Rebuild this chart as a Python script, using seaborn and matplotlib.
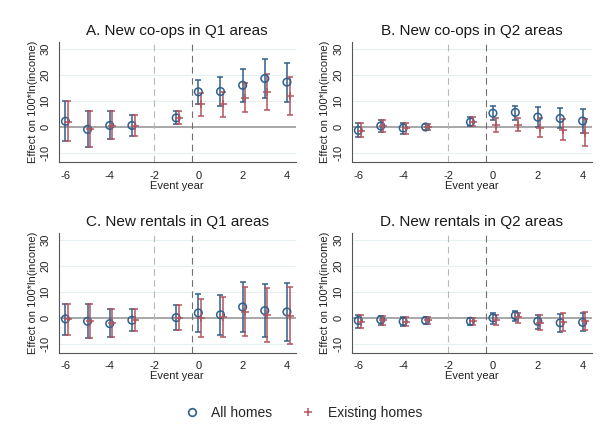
import matplotlib.pyplot as plt
import seaborn as sns
import pandas as pd
import numpy as np
from matplotlib.lines import Line2D

years = [-6, -5, -4, -3, -1, 0, 1, 2, 3, 4]
titles = ["A. New co-ops in Q1 areas", "B. New co-ops in Q2 areas",
          "C. New rentals in Q1 areas", "D. New rentals in Q2 areas"]

# all homes: estimate, lower, upper
a_all = [2.2, -0.9, 0.6, 0.6, 3.5, 13.5, 13.6, 16.0, 18.6, 17.2]
a_all_lo = [-5.5, -7.7, -4.5, -3.5, 1.0, 8.7, 8.1, 9.6, 11.3, 9.6]
a_all_hi = [9.9, 6.0, 6.0, 4.5, 6.0, 18.2, 19.2, 22.4, 26.0, 24.6]
a_ex = [2.0, -0.8, 0.5, 0.5, 3.4, 8.7, 8.7, 11.2, 13.5, 11.8]
a_ex_lo = [-5.5, -7.7, -4.5, -3.5, 1.0, 4.1, 3.8, 5.8, 6.4, 4.5]
a_ex_hi = [9.9, 6.0, 6.0, 4.5, 6.0, 13.0, 13.5, 16.9, 20.5, 19.0]

b_all = [-1.3, 0.4, -0.4, 0.0, 1.9, 5.3, 5.6, 3.8, 3.3, 2.3]
b_all_lo = [-3.8, -1.9, -2.6, -1.3, 0.3, 2.6, 2.8, 0.0, -0.5, -2.3]
b_all_hi = [1.5, 2.6, 1.5, 1.3, 3.8, 7.9, 8.2, 7.6, 7.3, 7.0]
b_ex = [-1.5, 0.3, -0.5, 0.0, 1.9, 0.6, 0.9, -0.4, -1.2, -2.3]
b_ex_lo = [-3.8, -1.9, -2.6, -1.3, 0.3, -1.9, -1.7, -4.0, -5.1, -7.3]
b_ex_hi = [1.5, 2.6, 1.5, 1.3, 3.8, 3.6, 3.6, 3.5, 3.0, 3.0]

c_all = [-0.5, -1.4, -2.3, -1.0, 0.0, 1.8, 1.1, 4.1, 2.7, 2.2]
c_all_lo = [-6.7, -7.8, -7.5, -5.2, -4.6, -5.6, -6.5, -5.5, -7.5, -8.8]
c_all_hi = [5.3, 5.3, 3.4, 3.4, 4.8, 9.1, 8.9, 13.8, 13.0, 13.3]
c_ex = [-0.6, -1.4, -2.2, -1.0, 0.0, -0.1, 0.3, 2.2, 0.9, 0.5]
c_ex_lo = [-6.7, -7.8, -7.5, -5.2, -4.6, -7.5, -7.4, -7.1, -9.4, -10.3]
c_ex_hi = [5.3, 5.3, 3.4, 3.4, 4.8, 7.1, 7.9, 11.6, 11.3, 11.7]

d_all = [-1.1, -0.8, -1.5, -1.1, -1.4, -0.1, 0.8, -1.4, -2.0, -1.8]
d_all_lo = [-3.8, -3.0, -3.3, -2.4, -2.9, -2.3, -1.4, -4.2, -5.5, -5.2]
d_all_hi = [1.1, 0.8, 0.1, 0.3, -0.1, 1.8, 2.7, 1.1, 1.4, 1.8]
d_ex = [-1.5, -1.0, -1.5, -1.1, -1.4, -1.0, 0.3, -1.9, -1.7, -1.4]
d_ex_lo = [-3.8, -3.0, -3.3, -2.4, -2.9, -3.0, -2.0, -4.6, -5.0, -4.6]
d_ex_hi = [1.1, 0.8, 0.1, 0.3, -0.1, 0.9, 1.8, 0.9, 1.7, 2.2]

panels = [
    (a_all, a_all_lo, a_all_hi, a_ex, a_ex_lo, a_ex_hi),
    (b_all, b_all_lo, b_all_hi, b_ex, b_ex_lo, b_ex_hi),
    (c_all, c_all_lo, c_all_hi, c_ex, c_ex_lo, c_ex_hi),
    (d_all, d_all_lo, d_all_hi, d_ex, d_ex_lo, d_ex_hi),
]

blue = "#2f5f8c"
red = "#b5555e"
grid_col = "#e6eff1"

sns.set_style("white")
plt.rcParams["font.family"] = ["Liberation Sans", "DejaVu Sans"]
plt.rcParams["axes.unicode_minus"] = False

fig = plt.figure(figsize=(6, 4.42), dpi=100)
positions = [
    [0.098, 0.633, 0.395, 0.272],
    [0.586, 0.633, 0.400, 0.272],
    [0.098, 0.202, 0.395, 0.271],
    [0.586, 0.202, 0.400, 0.271],
]

for i, (pos, title, vals) in enumerate(zip(positions, titles, panels)):
    ax = fig.add_axes(pos)
    est, lo, hi, est2, lo2, hi2 = vals
    df = pd.DataFrame({
        "year": years + [y + 0.12 for y in years],
        "est": est + est2,
        "lo": lo + lo2,
        "hi": hi + hi2,
        "group": ["All homes"] * len(years) + ["Existing homes"] * len(years),
    })
    for yv in [-10, 10, 20, 30]:
        ax.axhline(yv, color=grid_col, lw=0.8, zorder=0)
    ax.axhline(0, color="#a0a0a0", lw=1.3, zorder=1)
    ax.axvline(-2, color="#b8b8b8", lw=0.8, ls=(0, (6, 4)), zorder=1)
    ax.axvline(-0.3, color="#707070", lw=0.8, ls=(0, (6, 4)), zorder=1)

    for grp, col in [("All homes", blue), ("Existing homes", red)]:
        sub = df[df["group"] == grp]
        err = np.vstack([sub["est"] - sub["lo"], sub["hi"] - sub["est"]])
        ax.errorbar(sub["year"], sub["est"], yerr=err, fmt="none", ecolor=col,
                    elinewidth=1.1, capsize=2.5, capthick=1.1, zorder=3)
    sns.scatterplot(data=df[df["group"] == "All homes"], x="year", y="est", ax=ax,
                    marker="o", s=30, facecolor="none", edgecolor=blue,
                    linewidth=1.1, zorder=4, legend=False)
    sns.scatterplot(data=df[df["group"] == "Existing homes"], x="year", y="est", ax=ax,
                    marker="+", s=28, color=red, linewidth=1.1, zorder=4, legend=False)

    ax.set_xlim(-6.3, 4.4)
    ax.set_ylim(-13.5, 32.6)
    ax.set_xticks([-6, -4, -2, 0, 2, 4])
    ax.set_yticks([-10, 0, 10, 20, 30])
    ax.tick_params(axis="both", labelsize=8, length=4, width=0.8,
                   color="#555555", labelcolor="#222222", pad=2)
    for lab in ax.get_yticklabels():
        lab.set_rotation(90)
        lab.set_va("center")
    ax.set_xlabel("Event year", fontsize=8, labelpad=0, color="#222222")
    ax.set_ylabel("Effect on 100*ln(income)", fontsize=8, labelpad=2, color="#222222")
    ax.set_title(title, fontsize=11, pad=5, color="#1a1a1a")
    sns.despine(ax=ax)
    for side in ["left", "bottom"]:
        ax.spines[side].set_color("#555555")
        ax.spines[side].set_linewidth(0.8)

handles = [
    Line2D([], [], marker="o", ls="none", markerfacecolor="none",
           markeredgecolor=blue, markersize=5.5, markeredgewidth=1.2),
    Line2D([], [], marker="+", ls="none", color=red, markersize=6,
           markeredgewidth=1.1),
]
fig.legend(handles, ["All homes", "Existing homes"], loc="center",
           bbox_to_anchor=(0.5, 0.066), ncol=2, frameon=False, fontsize=10,
           handletextpad=0.4, columnspacing=1.6)

fig.savefig("out.png", dpi=100, facecolor="white")
